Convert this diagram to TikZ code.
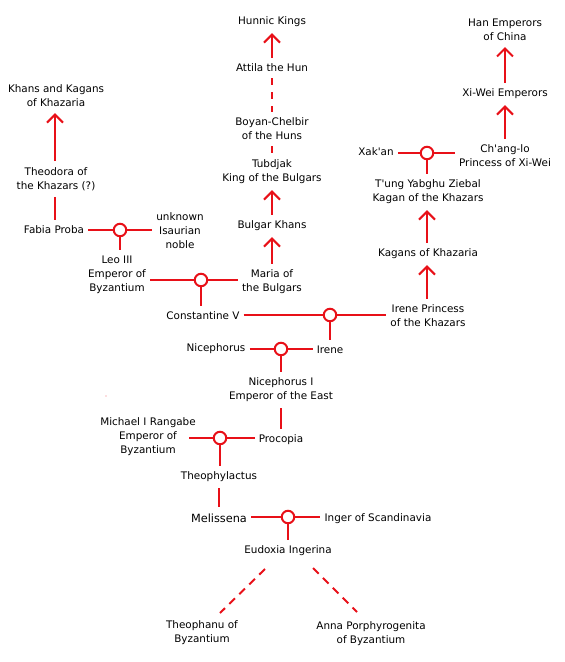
\documentclass[tikz,border=0pt]{standalone}
\usepackage{fontspec}
\setmainfont{DejaVu Sans}
\usetikzlibrary{arrows.meta,calc}
\definecolor{lred}{RGB}{232,16,24}
\begin{document}
\begin{tikzpicture}[x=1pt,y=-1pt,
  person/.style={font=\fontsize{10.4}{14}\selectfont, align=center, inner xsep=4pt, inner ysep=6pt, text=black, yshift=-1pt},
  link/.style={draw=lred, line width=2pt},
  arr/.style={link, -{Straight Barb[length=8pt,width=16pt]}},
  dsh/.style={link, dash pattern=on 7pt off 7pt},
  marriage/.style={circle, draw=lred, fill=white, line width=2pt, minimum size=12.5pt, inner sep=0pt}
]
\useasboundingbox (0,0) rectangle (565,662);

% people
\node[person] (hunnic) at (272,21) {Hunnic Kings};
\node[person] (attila) at (272,67) {Attila the Hun};
\node[person] (boyan) at (272,128) {Boyan-Chelbir\\of the Huns};
\node[person] (tubdjak) at (272,171) {Tubdjak\\King of the Bulgars};
\node[person] (bulgar) at (272,225) {Bulgar Khans};
\node[person] (maria) at (272,281) {Maria of\\the Bulgars};
\node[person] (han) at (505,29) {Han Emperors\\of China};
\node[person] (xiwei) at (505,93) {Xi-Wei Emperors};
\node[person] (changlo) at (505,155) {Ch\textquotesingle ang-lo\\Princess of Xi-Wei};
\node[person] (xakan) at (376,151) {Xak\textquotesingle an};
\node[person] (tung) at (428,191) {T\textquotesingle ung Yabghu Ziebal\\Kagan of the Khazars};
\node[person] (kagans) at (428,253) {Kagans of Khazaria};
\node[person] (ireneP) at (428,315) {Irene Princess\\of the Khazars};
\node[person] (khans) at (56,95) {Khans and Kagans\\of Khazaria};
\node[person] (theodora) at (56,178) {Theodora of\\the Khazars (?)};
\node[person] (fabia) at (54,229) {Fabia Proba};
\node[person] (unknown) at (180,230) {unknown\\Isaurian\\noble};
\node[person] (leo) at (117,274) {Leo III\\Emperor of\\Byzantium};
\node[person] (const) at (203,315) {Constantine V};
\node[person] (niceph) at (216,348) {Nicephorus};
\node[person] (irene) at (330,349) {Irene};
\node[person] (nicephI) at (281,389) {Nicephorus I\\Emperor of the East};
\node[person] (michael) at (148,436) {Michael I Rangabe\\Emperor of\\Byzantium};
\node[person] (procopia) at (281,439) {Procopia};
\node[person] (theoph) at (219,476) {Theophylactus};
\node[person, font=\fontsize{11.3}{14}\selectfont] (melissena) at (219,517) {Melissena};
\node[person] (inger) at (378,518) {Inger of Scandinavia};
\node[person] (eudoxia) at (288,550) {Eudoxia Ingerina};
\node[person] (theophanu) at (202,632) {Theophanu of\\Byzantium};
\node[person] (anna) at (371,633) {Anna Porphyrogenita\\of Byzantium};

% marriage points
\coordinate (mxak) at (427,153);
\coordinate (mfab) at (120,230);
\coordinate (mleo) at (201,280);
\coordinate (mcon) at (330,315);
\coordinate (mnic) at (281,349);
\coordinate (mmic) at (220,438);
\coordinate (mmel) at (288,517);

% ascent arrows
\draw[arr] (attila) -- (hunnic);
\draw[arr] (bulgar) -- (tubdjak);
\draw[arr] (maria) -- (bulgar);
\draw[arr] (xiwei) -- (han);
\draw[arr] (changlo) -- (xiwei);
\draw[arr] (kagans.north -| mxak) -- (tung.south -| mxak);
\draw[arr] (ireneP.north -| mxak) -- (kagans.south -| mxak);
\draw[arr] (theodora.north -| 55,0) -- (khans.south -| 55,0);

% dashed descents
\draw[dsh] (attila) -- (boyan);
\draw[dsh] (boyan) -- (tubdjak);
\draw[dsh, dash pattern=on 8pt off 6pt] ($(eudoxia.center)+(-23,18)$) -- ($(theophanu.center)+(18,-20)$);
\draw[dsh, dash pattern=on 8pt off 6pt] ($(eudoxia.center)+(25,17)$) -- ($(anna.center)+(-14,-22)$);

% plain links
\draw[link] (theodora.south -| 55,0) -- (fabia.north -| 55,0);
\draw[link] (nicephI) -- (procopia);
\draw[link] (theoph) -- (melissena);

% marriages
\draw[link] (xakan.east |- mxak) -- (changlo.west |- mxak);
\draw[link] (mxak) -- (mxak |- tung.north);
\draw[link] (fabia.east |- mfab) -- (unknown.west |- mfab);
\draw[link] (mfab) -- (mfab |- leo.north);
\draw[link] (leo.east |- mleo) -- (maria.west |- mleo);
\draw[link] (mleo) -- (mleo |- const.north);
\draw[link] (const.east |- mcon) -- (ireneP.west |- mcon);
\draw[link] (mcon) -- (mcon |- irene.north);
\draw[link] (niceph.east |- mnic) -- (irene.west |- mnic);
\draw[link] (mnic) -- (mnic |- nicephI.north);
\draw[link] ($(mmic)+(-31,0)$) -- (procopia.west |- mmic);
\draw[link] (mmic) -- (mmic |- theoph.north);
\draw[link] (melissena.east |- mmel) -- (inger.west |- mmel);
\draw[link] (mmel) -- (mmel |- eudoxia.north);

\foreach \m in {mxak,mfab,mleo,mcon,mnic,mmic,mmel}
  \node[marriage] at (\m) {};

\fill[lred!60] (106,396) circle (0.7);
\end{tikzpicture}
\end{document}
